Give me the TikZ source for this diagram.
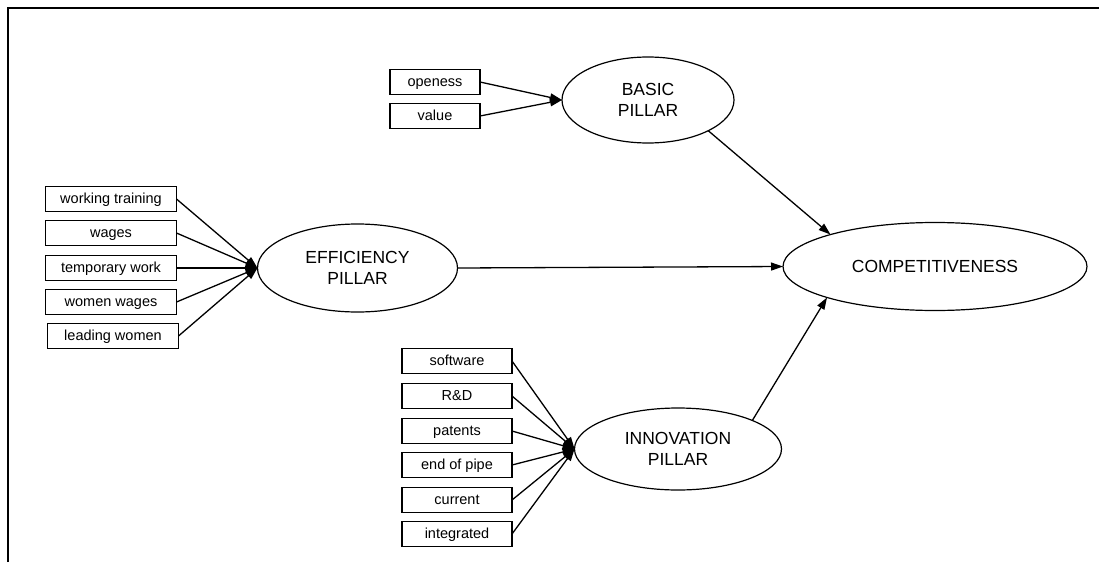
\documentclass[tikz,border=0pt]{standalone}
\usepackage{fontspec}
\setmainfont{Liberation Sans}
\usetikzlibrary{shapes.geometric,arrows.meta}
\begin{document}
\begin{tikzpicture}[x=1pt,y=-1pt,
  box/.style={draw, line width=1.4pt, minimum height=25pt, inner sep=0pt, outer sep=0pt,
    text height=10.5pt, text depth=2.5pt,
    font=\fontsize{14.5}{16}\selectfont},
  leftbox/.style={box, minimum width=131pt},
  innbox/.style={box, minimum width=110pt},
  basbox/.style={box, minimum width=90pt},
  ell/.style={draw, ellipse, line width=1.2pt, inner sep=0pt, outer sep=0pt, align=center,
    font=\fontsize{17.5}{20.5}\selectfont},
  arr/.style={line width=1.3pt, -{Triangle[length=12pt,width=8pt]}}
]
\useasboundingbox (0,0) rectangle (1099,562);
\draw[line width=1.5pt] (8,562) -- (8,8) -- (1099,8);

% ellipses
\node[ell, minimum width=172pt, minimum height=86pt] (basic) at (648,100) {BASIC\\PILLAR};
\node[ell, minimum width=200pt, minimum height=88pt] (eff) at (357.5,268) {EFFICIENCY\\PILLAR};
\node[ell, minimum width=207pt, minimum height=82pt] (inn) at (678,449) {INNOVATION\\PILLAR};
\node[ell, minimum width=304pt, minimum height=88pt] (comp) at (935,266.5) {COMPETITIVENESS};

% basic boxes
\node[basbox] (open) at (435,82) {openess};
\node[basbox] (val) at (435,116) {value};

% efficiency boxes
\node[leftbox] (wt) at (111,199) {working training};
\node[leftbox] (wg) at (111,233) {wages};
\node[leftbox] (tw) at (111,268) {temporary work};
\node[leftbox] (ww) at (111,302) {women wages};
\node[leftbox] (lw) at (113,336) {leading women};

% innovation boxes
\node[innbox] (sw) at (457,361) {software};
\node[innbox] (rd) at (457,396) {R\&D};
\node[innbox] (pt) at (457,431) {patents};
\node[innbox] (ep) at (457,465) {end of pipe};
\node[innbox] (cu) at (457,500) {current};
\node[innbox] (ig) at (457,534) {integrated};

% input arrows
\foreach \b in {open,val} \draw[arr] (\b.east) -- (basic.west);
\foreach \b in {wt,wg,tw,ww,lw} \draw[arr] (\b.east) -- (eff.west);
\foreach \b in {sw,rd,pt,ep,cu,ig} \draw[arr] (\b.east) -- (inn.west);

% pillar arrows
\draw[arr] (basic.-27) -- (comp.163);
\draw[arr] (eff.east) -- (comp.west);
\draw[arr] (inn.21) -- (comp.196);
\end{tikzpicture}
\end{document}
